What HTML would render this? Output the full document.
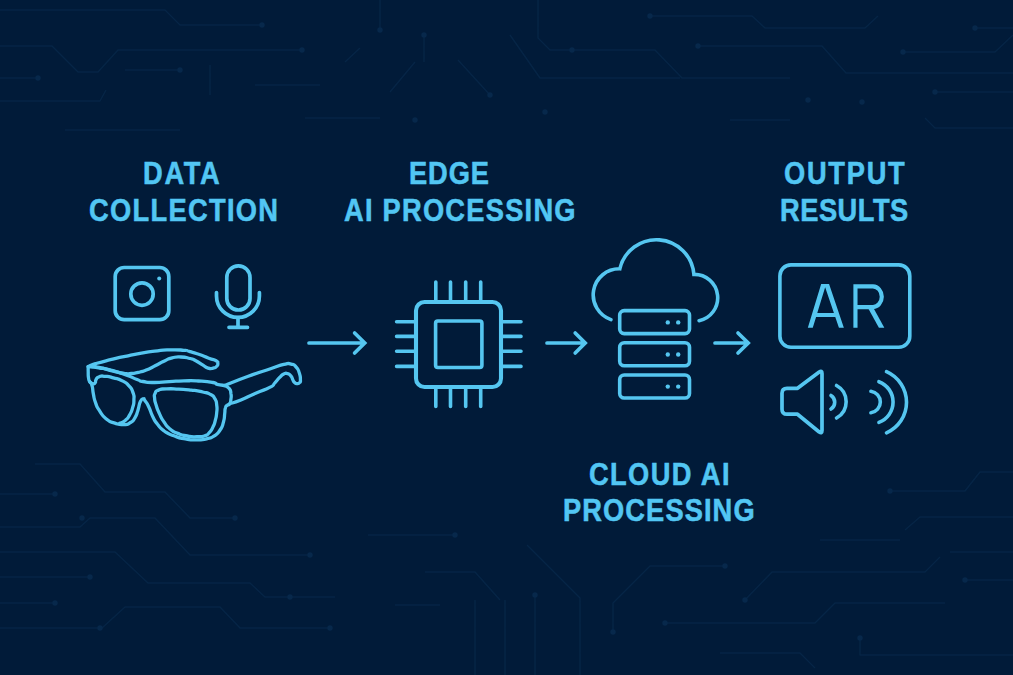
<!DOCTYPE html>
<html lang="en"><head><meta charset="utf-8"><title>Smart glasses AI pipeline</title>
<style>
html,body{margin:0;padding:0;}
body{width:1013px;height:675px;overflow:hidden;background:#011b39;position:relative;font-family:"Liberation Sans",sans-serif;}
.t{position:absolute;white-space:nowrap;color:#52c6f3;-webkit-text-stroke:0.55px #52c6f3;font-weight:bold;font-size:31.5px;line-height:1;transform-origin:0 0;}
svg{position:absolute;left:0;top:0;}
</style></head><body>
<svg id="bg" width="1013" height="675" viewBox="0 0 1013 675" fill="none" stroke="#062546" stroke-width="1.4" stroke-linejoin="round">
<path d="M0 10 L165 10 L180 25 L262 25 M0 46 L52 46 L78 72 L98 72 L118 50 L300 50 M0 78 L38 78 M0 101 L100 101 L106 90 M125 70 L180 70 M210 65 L210 95 M255 85 L320 85 M345 62 L360 48 M380 0 L380 30 M424 35 L424 62 M415 62 L390 92 M458 60 L490 95 M65 130 L180 130 M305 118 L380 118 M538 0 L538 38 L550 50 L655 50 L682 78 L790 78 M510 35 L540 78 L680 78 M648 16 L752 16 L765 28 L865 28 L878 16 M698 46 L822 46 L846 73 L1013 73 M905 52 L995 52 L1013 35 M975 28 L1013 28 M935 92 L1013 92 M925 118 L935 128 L1013 128 M730 120 L790 120 M35 464 L80 464 L105 492 L165 492 L190 518 L235 518 M0 494 L55 494 M0 527 L80 527 L90 518 L155 518 L190 555 L310 555 M0 552 L115 552 L148 583 L250 583 L265 597 L335 597 M0 577 L90 577 M0 603 L55 603 M0 628 L102 628 L125 607 L220 607 L240 628 L330 628 M368 535 L455 535 M425 572 L475 572 L500 600 M395 605 L440 605 M475 600 L475 675 M505 600 L505 675 M527 545 L580 598 L580 675 M535 595 L535 675 M725 566 L650 566 L613 603 L613 632 M665 623 L815 623 L835 603 L945 603 M745 600 L772 572 L925 572 L940 557 M890 491 L965 491 L980 472 L1013 472 M820 540 L900 540 M905 530 L920 517 L1013 517 M950 552 L1013 552 M965 580 L1013 580 M860 638 L860 655 L1013 655 M720 653 L800 653 L815 668"/>
<g fill="#07284b" stroke="none"><circle cx="262" cy="25" r="2.7"/><circle cx="302" cy="50" r="2.7"/><circle cx="38" cy="78" r="2.7"/><circle cx="180" cy="70" r="2.7"/><circle cx="380" cy="30" r="2.7"/><circle cx="424" cy="35" r="2.7"/><circle cx="490" cy="95" r="2.7"/><circle cx="415" cy="120" r="2.7"/><circle cx="572" cy="50" r="2.7"/><circle cx="650" cy="16" r="2.7"/><circle cx="698" cy="46" r="2.7"/><circle cx="903" cy="52" r="2.7"/><circle cx="975" cy="28" r="2.7"/><circle cx="935" cy="92" r="2.7"/><circle cx="808" cy="100" r="2.7"/><circle cx="862" cy="102" r="2.7"/><circle cx="545" cy="112" r="2.7"/><circle cx="235" cy="518" r="2.7"/><circle cx="55" cy="494" r="2.7"/><circle cx="310" cy="555" r="2.7"/><circle cx="290" cy="597" r="2.7"/><circle cx="90" cy="577" r="2.7"/><circle cx="55" cy="603" r="2.7"/><circle cx="330" cy="628" r="2.7"/><circle cx="455" cy="535" r="2.7"/><circle cx="535" cy="595" r="2.7"/><circle cx="725" cy="566" r="2.7"/><circle cx="613" cy="632" r="2.7"/><circle cx="665" cy="623" r="2.7"/><circle cx="745" cy="600" r="2.7"/><circle cx="890" cy="491" r="2.7"/><circle cx="965" cy="580" r="2.7"/><circle cx="860" cy="638" r="2.7"/><circle cx="82" cy="518" r="2.7"/><circle cx="100" cy="628" r="2.7"/></g>
</svg>
<svg id="ic" width="1013" height="675" viewBox="0 0 1013 675" fill="none" stroke="#55c6f0" stroke-width="3.7" stroke-linecap="round" stroke-linejoin="round">
<!-- camera -->
<rect x="115.2" y="267.5" width="53.6" height="52.2" rx="9"/>
<circle cx="142" cy="294.1" r="11.2"/>
<circle cx="159.2" cy="278.4" r="2" fill="#55c6f0" stroke="none"/>
<!-- mic -->
<rect x="226.8" y="265.8" width="23.2" height="44.2" rx="11.6"/>
<path d="M216.5 292.5 V296 A21.45 21.45 0 0 0 259.4 296 V292.5"/>
<path d="M238 317.5 V327.3 M229 327.3 H247.5"/>
<!-- glasses -->
<g stroke-width="3.3">
<path d="M88.2 366.6 C91.7 367.0 91.2 366.7 98.6 367.8 C106.0 369.0 101.5 367.8 110.4 370.0 C119.3 372.3 116.4 371.5 125.3 374.6 C134.2 377.8 131.2 377.3 137.1 379.5 C143.0 381.8 137.2 380.5 143.0 381.5 C148.9 382.4 146.1 382.4 154.8 382.5 C163.6 382.5 159.7 382.2 169.3 381.6 C179.0 381.1 174.2 381.1 183.8 380.9 C193.5 380.7 188.7 380.5 198.3 381.0 C208.0 381.6 206.6 381.4 212.9 382.5 C219.1 383.6 213.2 383.3 217.2 384.3 C221.2 385.3 222.3 385.1 224.9 385.5"/>
<path d="M224.9 385.5 C226.3 386.6 227.2 386.0 229.2 388.6 C231.2 391.3 230.4 389.9 230.9 393.4 C231.5 397.0 231.4 395.7 230.9 399.2 C230.5 402.7 230.9 401.8 229.7 403.8 C228.5 405.8 228.7 403.8 227.3 405.2 C225.8 406.5 226.2 405.1 225.4 407.9 C224.5 410.7 225.3 408.8 224.7 413.6 C224.1 418.5 225.0 416.9 223.4 422.3 C221.9 427.8 223.1 425.5 220.1 430.0 C217.0 434.5 218.8 432.8 214.3 435.8 C209.8 438.7 212.4 437.5 206.6 438.9 C200.8 440.2 204.0 439.8 197.0 439.8 C189.9 439.8 193.1 440.2 185.4 438.9 C177.7 437.5 180.9 438.4 173.9 435.8 C166.8 433.2 169.7 434.8 164.2 431.0 C158.8 427.1 161.4 429.0 157.5 424.2 C153.7 419.4 155.6 422.3 152.7 416.5 C149.8 410.8 151.4 412.2 148.8 406.9 C146.3 401.6 146.8 403.3 145.0 400.7 C143.2 398.0 144.9 398.7 143.3 398.9 C141.8 399.2 142.2 397.7 140.4 401.5 C138.6 405.3 139.7 404.9 137.9 410.4 C136.0 415.8 137.4 413.7 134.9 417.8 C132.4 421.8 134.2 420.2 130.5 422.5 C126.7 424.8 129.0 424.4 123.8 424.6 C118.6 424.8 120.8 425.1 114.9 423.1 C109.0 421.1 111.2 422.9 106.0 418.7 C100.8 414.4 102.8 415.6 99.3 410.4 C95.9 405.1 97.6 408.4 95.6 402.9 C93.6 397.5 94.6 400.0 93.4 394.1 C92.2 388.1 93.2 389.2 91.9 385.2 C90.7 381.1 90.8 384.4 89.7 381.9 C88.6 379.4 89.0 381.1 88.5 377.8 C88.0 374.4 88.3 375.5 88.2 371.8 C88.1 368.1 88.2 368.4 88.2 366.6"/>
<path d="M89.7 381.5 C90.7 382.2 90.8 383.4 92.7 383.8 C94.5 384.3 94.0 384.2 95.2 382.8 C96.3 381.4 94.7 381.6 96.1 379.5 C97.4 377.5 96.3 377.8 99.3 376.7 C102.4 375.6 100.6 375.9 105.3 376.3 C109.9 376.6 107.7 376.2 113.4 377.8 C119.1 379.3 117.1 378.1 122.3 380.9 C127.5 383.6 125.4 382.0 129.0 385.9 C132.5 389.8 131.3 387.9 133.0 392.6 C134.6 397.3 134.0 395.0 133.9 400.0 C133.8 404.9 134.1 402.5 132.7 407.4 C131.3 412.3 132.2 410.5 129.7 414.8 C127.2 419.2 128.6 417.6 125.3 420.4 C121.9 423.3 121.5 422.3 119.6 423.3"/>
<path d="M155.1 393.4 C156.4 390.7 154.8 391.6 158.5 390.1 C162.2 388.6 159.4 389.2 166.2 388.9 C172.9 388.6 170.3 388.7 178.7 389.1 C187.0 389.5 183.2 389.1 191.2 390.1 C199.2 391.0 196.3 390.5 202.7 392.0 C209.2 393.4 206.4 392.2 210.4 394.4 C214.5 396.6 212.7 395.2 214.8 398.7 C216.9 402.3 216.1 400.3 216.7 405.0 C217.3 409.6 217.2 407.6 216.7 412.7 C216.2 417.8 216.5 415.6 215.3 420.4 C214.0 425.2 214.8 423.1 212.9 427.1 C210.9 431.1 212.2 429.5 209.5 432.4 C206.8 435.3 208.8 434.3 204.7 435.8 C200.5 437.2 202.7 436.7 197.0 436.7 C191.2 436.8 193.8 437.1 187.3 436.0 C180.9 434.9 183.5 435.7 177.7 433.4 C171.9 431.1 174.5 432.7 170.0 429.0 C165.5 425.4 167.8 427.4 164.2 422.3 C160.7 417.2 162.2 419.4 159.4 413.6 C156.7 407.9 157.7 410.1 156.1 405.0 C154.5 399.9 154.9 402.1 154.6 398.2 C154.3 394.4 153.8 396.2 155.1 393.4 Z"/>
<path d="M88.2 366.6 C90.7 365.6 88.2 366.0 95.6 363.7 C103.0 361.4 100.6 362.1 110.4 359.7 C120.3 357.2 115.4 358.4 125.3 356.3 C135.1 354.1 130.2 355.0 140.1 353.3 C149.9 351.6 145.1 352.2 154.8 351.1 C164.6 349.9 159.7 350.1 169.3 349.9 C179.0 349.6 177.0 349.7 183.8 350.3 C190.7 350.9 185.0 350.3 190.0 351.7 C194.9 353.0 192.4 352.2 198.7 354.3 C204.9 356.5 203.0 356.1 208.8 358.2 C214.6 360.3 213.1 359.0 216.1 360.7 C219.1 362.4 217.6 361.4 217.8 363.2 C218.0 365.0 218.3 364.6 216.8 366.2 C215.2 367.8 216.1 367.5 213.2 368.1 C210.3 368.7 211.5 369.1 208.1 368.1 C204.7 367.1 207.1 367.6 203.0 365.1 C198.9 362.7 200.1 362.9 195.8 360.7 C191.4 358.5 194.9 359.7 190.0 358.5 C185.0 357.2 186.8 357.2 180.9 357.0 C175.0 356.8 177.5 356.7 172.2 357.9 C166.9 359.1 169.8 358.5 165.0 360.7 C160.1 362.9 163.1 361.7 157.7 364.4 C152.4 367.1 154.9 366.3 149.0 368.9 C143.1 371.4 146.0 370.4 140.1 372.0 C134.2 373.5 136.6 373.0 131.2 373.5 C125.8 373.9 129.7 374.1 123.8 373.3 C117.9 372.5 121.3 373.0 113.4 371.1 C105.5 369.2 107.2 369.2 100.1 367.7 C92.9 366.1 94.6 366.9 91.9 366.5"/>
<path d="M224.9 385.5 C232.7 382.4 233.1 381.8 248.3 376.3 C263.5 370.7 258.6 372.8 270.5 368.8 C282.3 364.9 276.9 366.0 283.8 364.4 C290.7 362.8 287.0 363.1 291.2 364.1 C295.4 365.1 293.7 364.3 296.4 367.4 C299.1 370.4 298.0 369.2 299.4 373.3 C300.7 377.3 300.3 376.4 300.4 379.5 C300.5 382.6 300.8 381.2 299.7 382.6 C298.6 384.0 298.8 383.7 297.1 383.7 C295.5 383.6 296.1 383.9 294.6 382.5 C293.1 381.1 293.9 381.7 292.7 379.5 C291.5 377.3 292.7 377.9 290.9 376.0 C289.2 374.0 289.9 374.2 287.5 373.6 C285.1 372.9 286.5 372.7 283.8 374.0 C281.1 375.4 282.3 374.8 279.4 377.7 C276.4 380.7 278.1 379.7 274.9 382.9 C271.7 386.1 276.2 383.9 269.7 387.4 C263.3 390.8 265.3 389.1 255.7 393.3 C246.0 397.5 249.5 396.4 240.9 400.0 C232.2 403.5 233.4 402.5 229.7 403.8"/>
</g>
<!-- arrows -->
<path d="M309 343 H364 M354.6 333 L364.7 343 L354.6 353" stroke-linejoin="miter"/>
<path d="M547 343 H584.5 M575.2 333 L585.2 343 L575.2 353" stroke-linejoin="miter"/>
<path d="M715 343 H747.5 M738 333 L748.2 343 L738 353" stroke-linejoin="miter"/>
<!-- chip -->
<g stroke-width="4.1"><rect x="416" y="302" width="85" height="85" rx="8.5"/></g>
<g stroke-width="3.6"><rect x="435.6" y="321" width="46.3" height="46.5" rx="2.2"/>
<path d="M435.8 282V300M450.5 282V300M465.7 282V300M480.7 282V300"/>
<path d="M435.8 389V406.4M450.5 389V406.4M465.7 389V406.4M480.7 389V406.4"/>
<path d="M396.6 321.8H414M396.6 336.4H414M396.6 351.3H414M396.6 366.4H414"/>
<path d="M503 321.8H521M503 336.4H521M503 351.3H521M503 366.4H521"/>
</g>
<!-- cloud -->
<g stroke-width="3.6">
<path d="M610.9 319.6 A26.1 26.1 0 0 1 619.8 268.8 A37.6 37.6 0 0 1 693.9 274.4 A23.4 23.4 0 0 1 699.1 320.7" stroke-linejoin="miter"/>
<rect x="619.7" y="310.6" width="69.8" height="23" rx="4.5"/>
<rect x="619.7" y="342.7" width="69.8" height="23" rx="4.5"/>
<rect x="619.7" y="375" width="69.8" height="23" rx="4.5"/>
</g>
<g fill="#55c6f0" stroke="none">
<circle cx="667.8" cy="322.4" r="2.2"/><circle cx="678.2" cy="322.4" r="2.2"/>
<circle cx="667.8" cy="354.5" r="2.2"/><circle cx="678.2" cy="354.5" r="2.2"/>
<circle cx="667.8" cy="386.6" r="2.2"/><circle cx="678.2" cy="386.6" r="2.2"/>
</g>
<!-- AR -->
<rect x="779.9" y="264.9" width="129.9" height="82.3" rx="11" stroke-width="3.6"/>
<!-- AR text -->
<g stroke="none" fill="#55c6f0" role="img" aria-label="AR"><title>AR</title><path fill-rule="evenodd" d="M807.83 327.81 L821.16 284.08 L829.06 284.08 L843.86 327.81 L838.93 327.81 L835.26 316.95 L816.08 316.95 L812.77 327.81 Z M817.28 313.01 L825.16 287.15 L833.91 313.01 Z"/><path d="M867.46 307.08 L872.89 307.08 L884.34 327.81 L878.91 327.81 Z"/></g>
<path d="M855.46 327.81 V286.35 H872.99 A9.08 10.37 0 0 1 872.99 307.08 H855.46" stroke-width="4.15" stroke-linecap="butt" stroke-linejoin="miter"/>
<!-- /AR text -->
<!-- speaker -->
<path d="M787 388.3 H797.5 L819.2 372 Q822 370.2 822 373.5 V430.5 Q822 433.8 819.2 432 L797.5 414.2 H787 Q782 414.2 782 409.2 V393.3 Q782 388.3 787 388.3 Z"/>
<g stroke-width="3.6">
<path d="M831 395.5 A8 8 0 0 1 831 409"/>
<path d="M836.5 385.5 A18.5 18.5 0 0 1 836.5 418"/>
<path d="M870.9 391.2 A10.9 10.9 0 0 1 870.9 412.8"/>
<path d="M878.9 381.7 A21.7 21.7 0 0 1 878.9 422.4"/>
<path d="M886.5 371.6 A33.4 33.4 0 0 1 886.5 432.8"/>
</g>
</svg>
<div class="t" id="t1" style="left:143.27px;top:158.00px;transform:scaleX(0.8650);letter-spacing:1.990px;">DATA</div>
<div class="t" id="t2" style="left:88.95px;top:195.00px;transform:scaleX(0.8650);letter-spacing:1.527px;">COLLECTION</div>
<div class="t" id="t3" style="left:409.41px;top:158.00px;transform:scaleX(0.8650);letter-spacing:1.057px;">EDGE</div>
<div class="t" id="t4" style="left:343.84px;top:195.00px;transform:scaleX(0.8650);letter-spacing:1.447px;">AI PROCESSING</div>
<div class="t" id="t5" style="left:784.32px;top:158.00px;transform:scaleX(0.8650);letter-spacing:2.021px;">OUTPUT</div>
<div class="t" id="t6" style="left:779.65px;top:195.00px;transform:scaleX(0.8650);letter-spacing:0.607px;">RESULTS</div>
<div class="t" id="t7" style="left:588.57px;top:459.00px;transform:scaleX(0.8650);letter-spacing:1.617px;">CLOUD AI</div>
<div class="t" id="t8" style="left:562.91px;top:495.00px;transform:scaleX(0.8650);letter-spacing:1.272px;">PROCESSING</div>
</body></html>
